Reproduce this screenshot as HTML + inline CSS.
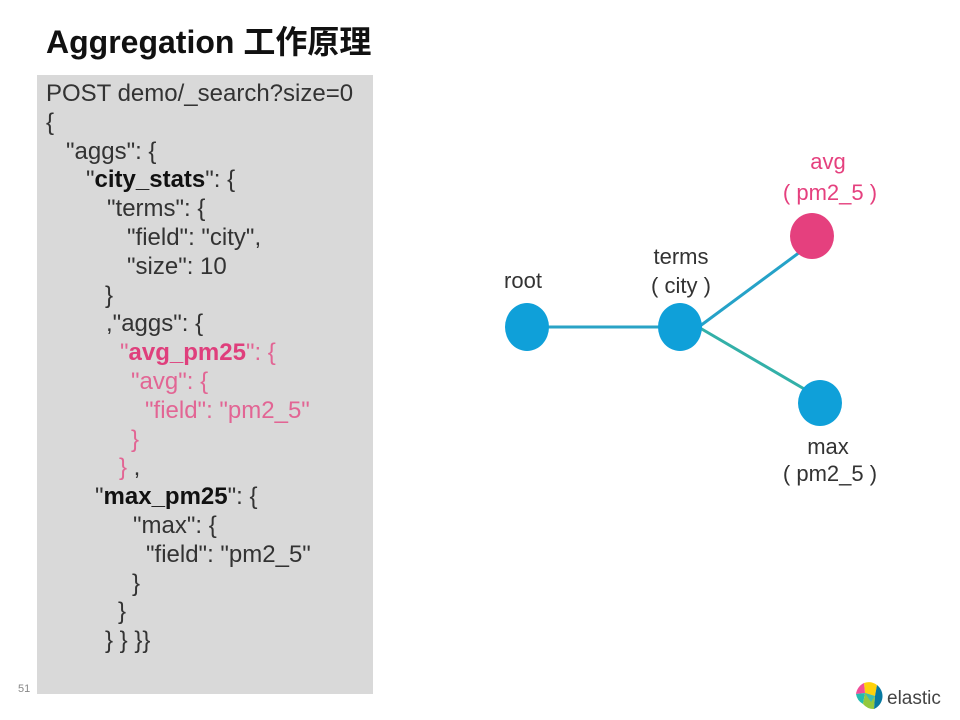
<!DOCTYPE html>
<html><head><meta charset="utf-8">
<style>
html,body{margin:0;padding:0;background:#fff;}
body{width:960px;height:720px;position:relative;overflow:hidden;font-family:"Liberation Sans","Noto Sans CJK SC",sans-serif;}
.title{position:absolute;left:46px;top:22px;font-size:32px;font-weight:bold;color:#111;white-space:nowrap;line-height:40px;}
.box{position:absolute;left:37px;top:75px;width:336px;height:619px;background:#d9d9d9;}
.l{position:absolute;font-size:24px;color:#333;white-space:pre;line-height:28px;}
.b{font-weight:bold;color:#111;}
.pk{color:#e26594;}
.pb{color:#df3f7c;font-weight:bold;}
.num{position:absolute;left:18px;top:683px;font-size:11px;color:#888;}
.lbl{position:absolute;font-size:22px;color:#333;white-space:pre;transform:translateX(-50%);line-height:26px;font-family:"Liberation Sans",sans-serif;}
</style></head><body>
<div class="title">Aggregation 工作原理</div>
<div class="box"></div>
<div class="l" style="left:46px;top:80px">POST demo/_search?size=0</div>
<div class="l" style="left:46px;top:109px">{</div>
<div class="l" style="left:66px;top:138px">"aggs": {</div>
<div class="l" style="left:86px;top:166px">"<span class="b">city_stats</span>": {</div>
<div class="l" style="left:107px;top:195px">"terms": {</div>
<div class="l" style="left:127px;top:224px">"field": "city",</div>
<div class="l" style="left:127px;top:253px">"size": 10</div>
<div class="l" style="left:105px;top:282px">}</div>
<div class="l" style="left:106px;top:310px">,"aggs": {</div>
<div class="l pk" style="left:120px;top:339px">"<span class="pb">avg_pm25</span>": {</div>
<div class="l pk" style="left:131px;top:368px">"avg": {</div>
<div class="l pk" style="left:145px;top:397px">"field": "pm2_5"</div>
<div class="l pk" style="left:131px;top:426px">}</div>
<div class="l" style="left:119px;top:454px"><span class="pk">}</span> ,</div>
<div class="l" style="left:95px;top:483px">"<span class="b">max_pm25</span>": {</div>
<div class="l" style="left:133px;top:512px">"max": {</div>
<div class="l" style="left:146px;top:541px">"field": "pm2_5"</div>
<div class="l" style="left:132px;top:570px">}</div>
<div class="l" style="left:118px;top:598px">}</div>
<div class="l" style="left:105px;top:627px">} } }}</div>
<div class="num">51</div>

<svg width="960" height="720" style="position:absolute;left:0;top:0" xmlns="http://www.w3.org/2000/svg">
  <line x1="527" y1="327" x2="680" y2="327" stroke="#2aa3c6" stroke-width="3"/>
  <line x1="700" y1="326" x2="800" y2="252" stroke="#25a2c8" stroke-width="3"/>
  <line x1="700" y1="328" x2="806" y2="390" stroke="#33b0a8" stroke-width="3"/>
  <ellipse cx="527" cy="327" rx="22" ry="24" fill="#0fa0d9"/>
  <ellipse cx="680" cy="327" rx="22" ry="24" fill="#0fa0d9"/>
  <ellipse cx="812" cy="236" rx="22" ry="23" fill="#e5407e"/>
  <ellipse cx="820" cy="403" rx="22" ry="23" fill="#0fa0d9"/>
  <g transform="translate(869,696)">
    <circle r="14" fill="#fff"/>
    <path d="M-5,-13 A14,14 0 0 1 8,-11 L6,0 L-4,-3 Z" fill="#fed10a"/>
    <path d="M-5,-13 L-4,-3 L-13,-2 A14,14 0 0 1 -5,-13 Z" fill="#f04e98"/>
    <path d="M-13,-2 L-4,-3 L-6,8 A14,14 0 0 1 -13,-2 Z" fill="#24bbb1"/>
    <path d="M-6,8 L-4,-3 L6,0 L5,13 A14,14 0 0 1 -6,8 Z" fill="#93c83e"/>
    <path d="M8,-11 A14,14 0 0 1 5,13 L6,0 Z" fill="#0779a1"/>
    <path d="M-4,-3 L6,0 L2,6 Z" fill="#3ebeb0"/>
  </g>
  <text x="887" y="704" font-family="Liberation Sans, sans-serif" font-size="19" fill="#444">elastic</text>
</svg>

<div class="lbl" style="left:523px;top:268px">root</div>
<div class="lbl" style="left:681px;top:244px">terms</div>
<div class="lbl" style="left:681px;top:273px">( city )</div>
<div class="lbl" style="left:828px;top:149px;color:#e5407e">avg</div>
<div class="lbl" style="left:830px;top:180px;color:#e5407e">( pm2_5 )</div>
<div class="lbl" style="left:828px;top:434px">max</div>
<div class="lbl" style="left:830px;top:461px">( pm2_5 )</div>
</body></html>
